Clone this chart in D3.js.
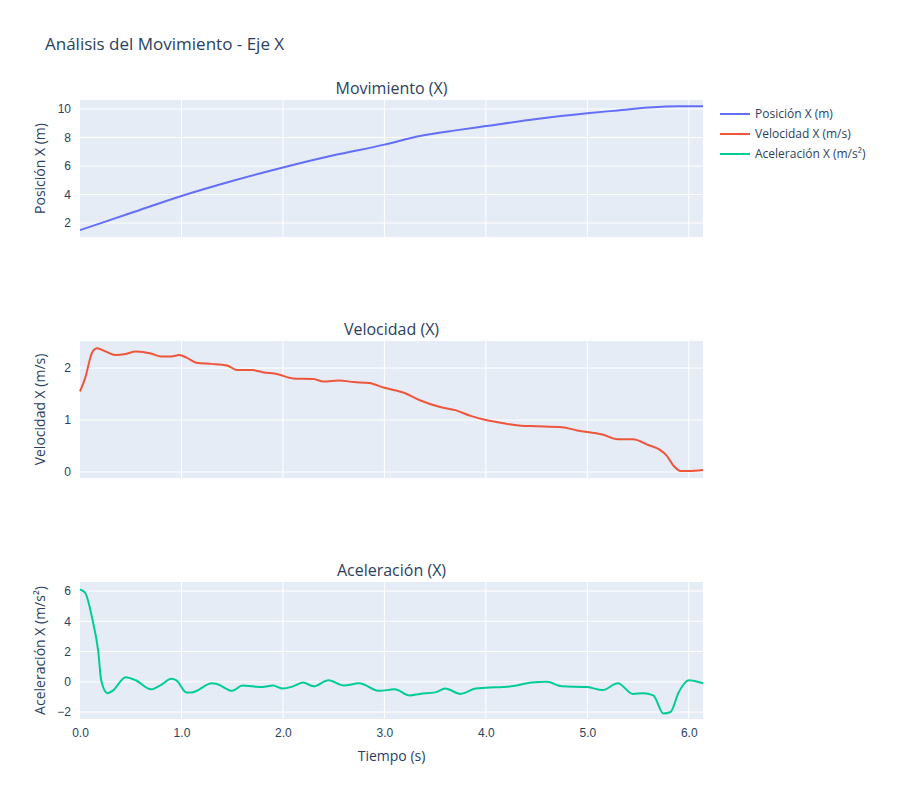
<!DOCTYPE html>
<html lang="es">
<head>
<meta charset="UTF-8">
<title>Análisis del Movimiento - Eje X</title>
<script src="https://cdn.jsdelivr.net/npm/d3@7"></script>
<style>
  body { margin: 0; background: #fff; font-family: "Open Sans", "Noto Sans", sans-serif; }
  .grid line { stroke: #fff; }
  .tick text { fill: #2a3f5f; font-size: 12px; }
</style>
</head>
<body>
<div id="chart"></div>
<script>
// data
var posT = [0, 0.5, 1, 1.5, 2, 2.5, 3, 3.35, 3.7, 4, 4.5, 5, 5.3, 5.6, 5.9, 6.14];
var posX = [1.5, 2.7, 3.9, 4.95, 5.9, 6.75, 7.5, 8.1, 8.5, 8.8, 9.3, 9.7, 9.9, 10.1, 10.2, 10.2];

var velT = [0, 0.05, 0.12, 0.17, 0.25, 0.35, 0.45, 0.55, 0.7, 0.8, 0.9, 0.98, 1.05, 1.15, 1.3, 1.45, 1.55, 1.7, 1.8, 1.95, 2.1, 2.3, 2.4, 2.55, 2.7, 2.85, 3.0, 3.2, 3.35, 3.55, 3.7, 3.85, 4.0, 4.2, 4.35, 4.5, 4.75, 4.9, 5.15, 5.3, 5.45, 5.6, 5.72, 5.78, 5.85, 5.92, 6.0, 6.14];
var velX = [1.55, 1.8, 2.3, 2.38, 2.32, 2.25, 2.27, 2.32, 2.28, 2.22, 2.22, 2.25, 2.2, 2.1, 2.08, 2.05, 1.96, 1.96, 1.92, 1.88, 1.8, 1.79, 1.74, 1.76, 1.73, 1.71, 1.62, 1.52, 1.38, 1.25, 1.19, 1.08, 1.0, 0.93, 0.89, 0.88, 0.86, 0.8, 0.72, 0.63, 0.63, 0.52, 0.42, 0.32, 0.12, 0.02, 0.02, 0.04];

var accT = [0, 0.05, 0.12, 0.18, 0.21, 0.27, 0.32, 0.45, 0.55, 0.7, 0.8, 0.9, 0.95, 1.05, 1.1, 1.3, 1.35, 1.5, 1.6, 1.7, 1.8, 1.9, 2.0, 2.1, 2.2, 2.3, 2.45, 2.6, 2.75, 2.95, 3.1, 3.25, 3.35, 3.5, 3.6, 3.75, 3.9, 4.0, 4.25, 4.45, 4.6, 4.75, 5.0, 5.15, 5.3, 5.45, 5.55, 5.65, 5.75, 5.82, 5.9, 6.0, 6.14];
var accX = [6.1, 5.9, 4.2, 2.0, 0.05, -0.75, -0.6, 0.3, 0.1, -0.5, -0.2, 0.2, 0.1, -0.7, -0.7, -0.1, -0.15, -0.6, -0.25, -0.3, -0.35, -0.25, -0.45, -0.3, -0.05, -0.3, 0.1, -0.25, -0.1, -0.6, -0.5, -0.9, -0.8, -0.7, -0.45, -0.8, -0.45, -0.4, -0.3, -0.05, 0.0, -0.3, -0.35, -0.55, -0.1, -0.8, -0.75, -0.9, -2.1, -2.0, -0.7, 0.1, -0.1];

var panels = [
  { title: "Movimiento (X)", ylabel: "Posición X (m)", name: "Posición X (m)", t: posT, v: posX, color: "#636efa", dom: [1.02, 10.63], ticks: [2, 4, 6, 8, 10], top: 100 },
  { title: "Velocidad (X)", ylabel: "Velocidad X (m/s)", name: "Velocidad X (m/s)", t: velT, v: velX, color: "#ef553b", dom: [-0.115, 2.52], ticks: [0, 1, 2], top: 341 },
  { title: "Aceleración (X)", ylabel: "Aceleración X (m/s²)", name: "Aceleración X (m/s²)", t: accT, v: accX, color: "#00cc96", dom: [-2.46, 6.6], ticks: [-2, 0, 2, 4, 6], top: 582 }
];

var width = 900, height = 800;
var left = 80, right = 703, ph = 137;

var svg = d3.select("#chart").append("svg").attr("width", width).attr("height", height);

svg.append("text").attr("x", 45).attr("y", 50).attr("fill", "#2a3f5f")
  .style("font-size", "17px").text("Análisis del Movimiento - Eje X");

var x = d3.scaleLinear().domain([0, 6.14]).range([left, right]);

panels.forEach(function(p, i) {
  var y = d3.scaleLinear().domain(p.dom).range([p.top + ph, p.top]);
  var g = svg.append("g");
  g.append("rect").attr("x", left).attr("y", p.top).attr("width", right - left).attr("height", ph).attr("fill", "#e5ecf6");

  g.append("g").attr("class", "grid").selectAll("line").data([1, 2, 3, 4, 5, 6]).join("line")
    .attr("x1", d => x(d)).attr("x2", d => x(d)).attr("y1", p.top).attr("y2", p.top + ph);
  g.append("g").attr("class", "grid").selectAll("line").data(p.ticks).join("line")
    .attr("x1", left).attr("x2", right).attr("y1", d => y(d)).attr("y2", d => y(d));

  var ya = g.append("g").attr("transform", "translate(" + (left - 3) + ",0)")
    .call(d3.axisLeft(y).tickValues(p.ticks).tickSize(0).tickPadding(6).tickFormat(d3.format("d")));
  ya.select(".domain").remove();

  if (i === 2) {
    var xa = g.append("g").attr("transform", "translate(0," + (p.top + ph + 3) + ")")
      .call(d3.axisBottom(x).tickValues([0, 1, 2, 3, 4, 5, 6]).tickSize(0).tickPadding(6));
    xa.select(".domain").remove();
    svg.append("text").attr("x", (left + right) / 2).attr("y", 761).attr("text-anchor", "middle")
      .attr("fill", "#2a3f5f").style("font-size", "14px").text("Tiempo (s)");
  }

  g.append("text").attr("x", (left + right) / 2).attr("y", p.top - 6).attr("text-anchor", "middle")
    .attr("fill", "#2a3f5f").style("font-size", "16px").text(p.title);

  g.append("text").attr("transform", "translate(45," + (p.top + ph / 2) + ") rotate(-90)")
    .attr("text-anchor", "middle").attr("fill", "#2a3f5f").style("font-size", "14px").text(p.ylabel);

  var pts = p.t.map((t, k) => [t, p.v[k]]);
  g.append("path").datum(pts)
    .attr("fill", "none").attr("stroke", p.color).attr("stroke-width", 2)
    .attr("d", d3.line().x(d => x(d[0])).y(d => y(d[1])).curve(d3.curveMonotoneX));

  // legend
  var ly = 114 + i * 20;
  svg.append("line").attr("x1", 720).attr("x2", 750).attr("y1", ly).attr("y2", ly)
    .attr("stroke", p.color).attr("stroke-width", 2);
  svg.append("text").attr("x", 755).attr("y", ly + 4).attr("fill", "#2a3f5f")
    .style("font-size", "12px").text(p.name);
});
</script>
</body>
</html>
